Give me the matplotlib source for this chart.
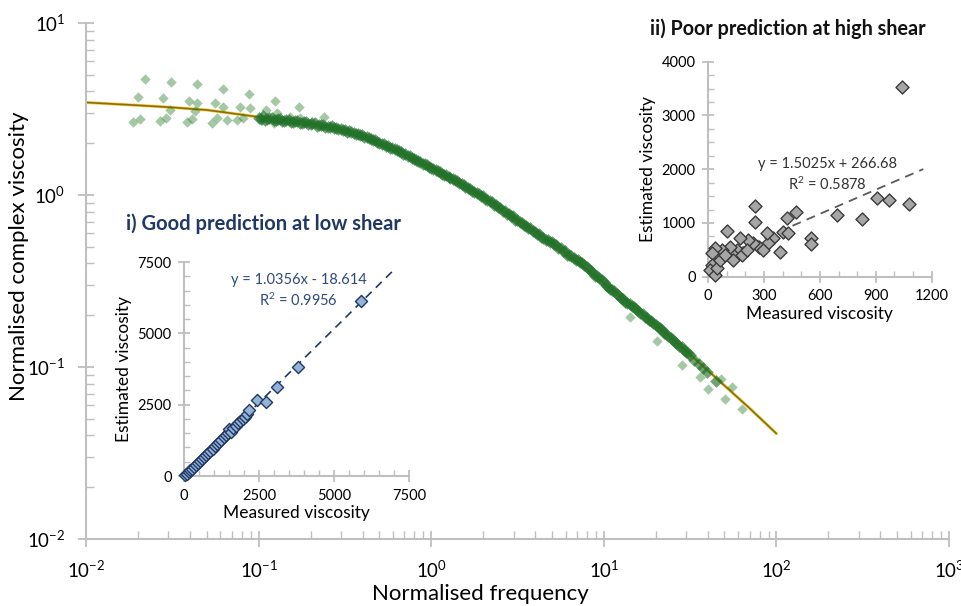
import matplotlib
matplotlib.use("Agg")
import matplotlib.pyplot as plt
from matplotlib.ticker import MultipleLocator, NullFormatter, LogLocator

plt.rcParams['font.family'] = ['Lato', 'DejaVu Sans']
plt.rcParams['mathtext.fontset'] = 'custom'
plt.rcParams['mathtext.rm'] = 'Lato'
plt.rcParams['mathtext.it'] = 'Lato'
plt.rcParams['mathtext.bf'] = 'Lato:bold'

# ---- main master curve data ----
fit_freq = [0.01, 0.02, 0.03, 0.05, 0.08, 0.1, 0.15, 0.2, 0.3, 0.5, 0.7, 1.0,
            1.5, 2.0, 3.0, 5.0, 7.0, 10, 15, 20, 30, 50, 70, 100]
fit_visc = [3.45, 3.32, 3.24, 3.12, 2.93, 2.84, 2.72, 2.62, 2.40, 1.98, 1.72, 1.45,
            1.16, 0.97, 0.74, 0.525, 0.41, 0.308, 0.224, 0.176, 0.124, 0.078, 0.0575, 0.041]

# sparse low-frequency measurements
freq_low = [0.022, 0.020, 0.0188, 0.0206, 0.031, 0.028, 0.0307, 0.0269, 0.029,
            0.0437, 0.0397, 0.0441, 0.0429, 0.0383, 0.0409, 0.0624, 0.0558, 0.0624,
            0.0571, 0.0535, 0.0653, 0.088, 0.078, 0.089, 0.0814, 0.0746, 0.124,
            0.111, 0.127, 0.104, 0.122, 0.172, 0.152, 0.174, 0.24]
visc_low = [4.72, 3.73, 2.67, 2.75, 4.56, 3.65, 3.12, 2.70, 2.79,
            4.40, 3.53, 3.41, 3.09, 2.67, 2.75, 4.12, 3.41, 3.26,
            2.79, 2.61, 2.73, 3.85, 3.26, 3.19, 2.79, 2.73, 3.52,
            3.12, 2.99, 2.73, 2.61, 3.24, 2.85, 2.79, 2.85]

# dense measurements, run A
freq_a = [0.100, 0.106, 0.112, 0.119, 0.126, 0.133, 0.141, 0.150, 0.158, 0.168,
          0.178, 0.188, 0.200, 0.211, 0.224, 0.237, 0.251, 0.266, 0.282, 0.299,
          0.316, 0.335, 0.355, 0.376, 0.398, 0.422, 0.447, 0.473, 0.501, 0.531,
          0.562, 0.596, 0.631, 0.668, 0.708, 0.750, 0.794, 0.841, 0.891, 0.944,
          1.00, 1.06, 1.12, 1.19, 1.26, 1.33, 1.41, 1.50, 1.58, 1.68,
          1.78, 1.88, 2.00, 2.11, 2.24, 2.37, 2.51, 2.66, 2.82, 2.99,
          3.16, 3.35, 3.55, 3.76, 3.98, 4.22, 4.47, 4.73, 5.01, 5.31,
          5.62, 5.96, 6.31, 6.68, 7.08, 7.50, 7.94, 8.41, 8.91, 9.44,
          10.0, 10.6, 11.2, 11.9, 12.6, 13.3, 14.1, 15.0, 15.8, 16.8,
          17.8, 18.8, 20.0, 21.1, 22.4, 23.7, 25.1, 26.6, 28.2, 29.9,
          31.6, 35.5, 39.8, 44.7]
visc_a = [2.80, 2.86, 2.76, 2.80, 2.74, 2.78, 2.70, 2.74, 2.66, 2.70,
          2.63, 2.66, 2.60, 2.62, 2.55, 2.56, 2.50, 2.51, 2.44, 2.43,
          2.38, 2.35, 2.30, 2.27, 2.22, 2.18, 2.12, 2.09, 2.00, 1.97,
          1.92, 1.88, 1.83, 1.78, 1.72, 1.68, 1.62, 1.58, 1.52, 1.49,
          1.44, 1.40, 1.36, 1.31, 1.28, 1.24, 1.20, 1.16, 1.12, 1.08,
          1.04, 1.01, 0.98, 0.94, 0.91, 0.87, 0.84, 0.81, 0.77, 0.75,
          0.72, 0.69, 0.66, 0.64, 0.61, 0.59, 0.56, 0.55, 0.53, 0.51,
          0.49, 0.47, 0.45, 0.43, 0.42, 0.40, 0.38, 0.36, 0.34, 0.33,
          0.31, 0.29, 0.28, 0.265, 0.252, 0.24, 0.232, 0.222, 0.212, 0.202,
          0.193, 0.184, 0.176, 0.168, 0.158, 0.151, 0.144, 0.136, 0.130, 0.123,
          0.117, 0.104, 0.093, 0.083]

# dense measurements, run B
freq_b = [0.103, 0.109, 0.115, 0.122, 0.129, 0.137, 0.145, 0.154, 0.163, 0.173,
          0.183, 0.194, 0.205, 0.218, 0.230, 0.244, 0.259, 0.274, 0.290, 0.307,
          0.325, 0.345, 0.365, 0.387, 0.410, 0.434, 0.460, 0.487, 0.516, 0.546,
          0.579, 0.613, 0.649, 0.688, 0.729, 0.772, 0.818, 0.866, 0.917, 0.972,
          1.03, 1.09, 1.15, 1.22, 1.29, 1.37, 1.45, 1.54, 1.63, 1.73,
          1.83, 1.94, 2.05, 2.18, 2.30, 2.44, 2.59, 2.74, 2.90, 3.07,
          3.25, 3.45, 3.65, 3.87, 4.10, 4.34, 4.60, 4.87, 5.16, 5.46,
          5.79, 6.13, 6.49, 6.88, 7.29, 7.72, 8.18, 8.66, 9.17, 9.72,
          10.3, 10.9, 11.5, 12.2, 12.9, 13.7, 14.5, 15.4, 16.3, 17.3,
          18.3, 19.4, 20.5, 21.8, 23.0, 24.4, 25.9, 27.4, 29.0, 30.7,
          33.5, 37.6]
visc_b = [2.76, 2.72, 2.79, 2.71, 2.76, 2.68, 2.73, 2.65, 2.69, 2.61,
          2.64, 2.58, 2.61, 2.53, 2.55, 2.49, 2.47, 2.46, 2.41, 2.39,
          2.33, 2.31, 2.26, 2.24, 2.17, 2.15, 2.08, 2.04, 1.99, 1.93,
          1.88, 1.84, 1.79, 1.74, 1.69, 1.64, 1.60, 1.55, 1.51, 1.46,
          1.42, 1.38, 1.33, 1.30, 1.25, 1.22, 1.18, 1.14, 1.10, 1.06,
          1.02, 0.99, 0.95, 0.92, 0.88, 0.85, 0.81, 0.78, 0.75, 0.72,
          0.70, 0.67, 0.64, 0.62, 0.59, 0.57, 0.55, 0.53, 0.52, 0.49,
          0.47, 0.45, 0.44, 0.42, 0.41, 0.39, 0.37, 0.35, 0.34, 0.32,
          0.30, 0.285, 0.275, 0.26, 0.248, 0.237, 0.226, 0.216, 0.206, 0.196,
          0.188, 0.179, 0.171, 0.163, 0.155, 0.147, 0.140, 0.133, 0.126, 0.120,
          0.110, 0.098]

# high-frequency tail measurements
freq_tail = [14.2, 20.2, 28.2, 36.1, 40.3, 50.3, 63.4, 48.0, 55.0]
visc_tail = [0.196, 0.142, 0.103, 0.0880, 0.0740, 0.0650, 0.0570, 0.085, 0.076]

# ---- inset i: low shear ----
lo_meas = [40, 90, 150, 210, 270, 330, 400, 460, 530, 600, 660, 720, 800, 870,
           950, 1020, 1090, 1160, 1240, 1320, 1390, 1460, 1500, 1560, 1640, 1720,
           1800, 1880, 1960, 2030, 2110, 2180, 2420, 2720, 3100, 3815, 5910]
lo_est = [25, 80, 140, 205, 260, 330, 390, 470, 530, 610, 660, 740, 810, 880,
          960, 1040, 1110, 1180, 1270, 1350, 1420, 1500, 1640, 1560, 1680, 1760,
          1850, 1930, 2010, 2080, 2170, 2310, 2680, 2600, 3110, 3830, 6150]
lo_fit_x = [0, 6950]
lo_slope, lo_icpt = 1.0356, -18.614

# ---- inset ii: high shear ----
hi_meas = [1042, 905, 973, 1078, 825, 694, 470, 422, 404, 431, 252, 252, 386,
           551, 551, 350, 323, 315, 272, 243, 216, 172, 154, 136, 118, 100, 73,
           38, 20, 20, 11, 38, 47, 64, 181, 208, 297, 136, 91]
hi_est = [3534, 1470, 1427, 1346, 1073, 1148, 1197, 1098, 826, 807, 1321, 1012,
          465, 714, 608, 714, 621, 807, 558, 621, 683, 714, 497, 404, 558, 850,
          497, 527, 435, 218, 124, 32, 156, 311, 404, 497, 497, 311, 404]
hi_fit_x = [0, 1155]
hi_slope, hi_icpt = 1.5025, 266.68

AXIS_GREY = '#bfbfbf'
GREEN = '#267a26'

fig = plt.figure(figsize=(9.62, 6.06), dpi=100)
fig.patch.set_facecolor('white')


def style_axes(ax, major_len, minor_len):
    for s in ['top', 'right']:
        ax.spines[s].set_visible(False)
    for s in ['left', 'bottom']:
        ax.spines[s].set_color(AXIS_GREY)
        ax.spines[s].set_linewidth(1.5)
    ax.tick_params(which='major', direction='inout', length=major_len, width=1.3,
                   color=AXIS_GREY)
    ax.tick_params(which='minor', direction='in', length=minor_len, width=1.0,
                   color=AXIS_GREY)


# main axes
ax = fig.add_axes([0.0894, 0.1106, 0.8971, 0.8515])
ax.set_xscale('log')
ax.set_yscale('log')
ax.set_xlim(1e-2, 1e3)
ax.set_ylim(1e-2, 1e1)
style_axes(ax, 12, 6)
ax.xaxis.set_minor_locator(LogLocator(base=10, subs=range(2, 10), numticks=20))
ax.yaxis.set_minor_locator(LogLocator(base=10, subs=range(2, 10), numticks=20))
ax.xaxis.set_minor_formatter(NullFormatter())
ax.yaxis.set_minor_formatter(NullFormatter())
ax.tick_params(which='major', labelsize=13.5, pad=9)

sparse_kw = dict(marker='D', s=28, color=GREEN, alpha=0.42, linewidths=0, zorder=3)
dense_kw = dict(marker='D', s=42, color='#22722a', alpha=0.65, linewidths=0, zorder=3)
ax.plot(fit_freq, fit_visc, color='#f0cf3a', lw=2.2, zorder=1.5, solid_capstyle='round')
ax.plot(fit_freq, fit_visc, color='#8f6a12', lw=1.2, zorder=2, solid_capstyle='round')
ax.scatter(freq_low, visc_low, **sparse_kw)
ax.scatter(freq_a, visc_a, **dense_kw)
ax.scatter(freq_b, visc_b, **dense_kw)
ax.scatter(freq_tail, visc_tail, **sparse_kw)

ax.set_xlabel('Normalised frequency', fontsize=16)
ax.set_ylabel('Normalised complex viscosity', fontsize=16)
ax.xaxis.set_label_coords(0.457, -0.088)
ax.yaxis.set_label_coords(-0.066, 0.548)

# inset i
ax1 = fig.add_axes([0.1913, 0.2145, 0.2339, 0.3531])
ax1.patch.set_alpha(0)
style_axes(ax1, 8, 4)
ax1.set_xlim(0, 7500)
ax1.set_ylim(0, 7500)
ax1.xaxis.set_major_locator(MultipleLocator(2500))
ax1.xaxis.set_minor_locator(MultipleLocator(500))
ax1.yaxis.set_major_locator(MultipleLocator(2500))
ax1.yaxis.set_minor_locator(MultipleLocator(500))
ax1.tick_params(which='major', labelsize=10.5, pad=5)
lo_fit_y = [lo_slope * v + lo_icpt for v in lo_fit_x]
ax1.plot(lo_fit_x, lo_fit_y, color='#1f3864', lw=1.2, dashes=(5, 3.5), zorder=2)
ax1.scatter(lo_meas, lo_est, marker='D', s=38, facecolor='#95b3d7',
            edgecolor='#1f3864', linewidths=1.0, zorder=3, clip_on=False)
ax1.set_xlabel('Measured viscosity', fontsize=12.5, labelpad=2)
ax1.set_ylabel('Estimated viscosity', fontsize=12.5, labelpad=4)
ax1.text(0.51, 0.915, 'y = 1.0356x - 18.614', transform=ax1.transAxes,
         ha='center', va='center', fontsize=10.5, color='#2f4a7a')
ax1.text(0.51, 0.82, 'R$^2$ = 0.9956', transform=ax1.transAxes,
         ha='center', va='center', fontsize=10.5, color='#2f4a7a')
fig.text(0.2735, 1 - 224 / 606, 'i) Good prediction at low shear', ha='center',
         va='center', fontsize=14.5, fontweight='bold', color='#1f3864')

# inset ii
ax2 = fig.add_axes([0.736, 0.5434, 0.2325, 0.3548])
ax2.patch.set_alpha(0)
style_axes(ax2, 8, 4)
ax2.set_xlim(0, 1200)
ax2.set_ylim(0, 4000)
ax2.xaxis.set_major_locator(MultipleLocator(300))
ax2.xaxis.set_minor_locator(MultipleLocator(100))
ax2.yaxis.set_major_locator(MultipleLocator(1000))
ax2.yaxis.set_minor_locator(MultipleLocator(250))
ax2.tick_params(which='major', labelsize=10.5, pad=5)
hi_fit_y = [hi_slope * v + hi_icpt for v in hi_fit_x]
ax2.plot(hi_fit_x, hi_fit_y, color='#595959', lw=1.3, dashes=(5, 3.5), zorder=2)
ax2.scatter(hi_meas, hi_est, marker='D', s=44, facecolor='#a6a6a6',
            edgecolor='#3a3a3a', linewidths=1.0, zorder=3, clip_on=False)
ax2.set_xlabel('Measured viscosity', fontsize=12.5, labelpad=2)
ax2.set_ylabel('Estimated viscosity', fontsize=12.5, labelpad=4)
ax2.text(0.535, 0.525, 'y = 1.5025x + 266.68', transform=ax2.transAxes,
         ha='center', va='center', fontsize=10.5, color='#333333')
ax2.text(0.535, 0.43, 'R$^2$ = 0.5878', transform=ax2.transAxes,
         ha='center', va='center', fontsize=10.5, color='#333333')
fig.text(0.8186, 1 - 29 / 606, 'ii) Poor prediction at high shear', ha='center',
         va='center', fontsize=14.2, fontweight='bold', color='#111111')

fig.savefig('out.png', dpi=100)
